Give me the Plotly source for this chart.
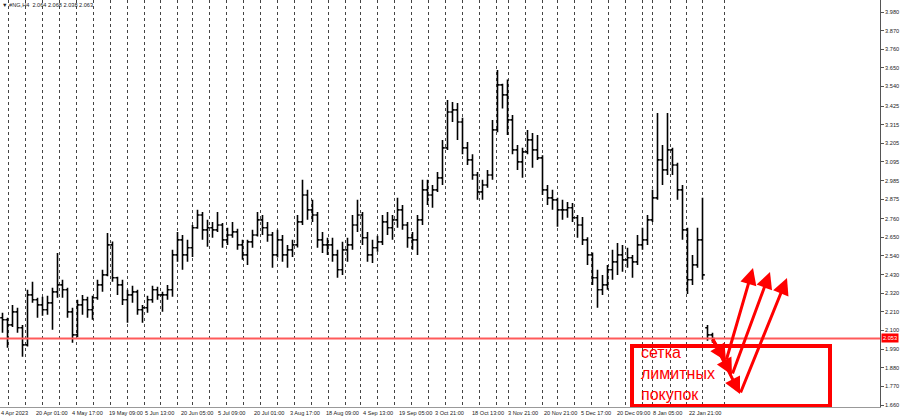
import plotly.graph_objects as go

# ---------------- data (H4 bars aggregated) ----------------
opens = [2.175, 2.163, 2.133, 2.210, 2.116, 2.015, 2.310, 2.281, 2.251, 2.222,
         2.263, 2.328, 2.369, 2.340, 2.210, 2.074, 2.251, 2.281, 2.222, 2.293,
         2.369, 2.428, 2.605, 2.411, 2.369, 2.281, 2.310, 2.328, 2.222, 2.234,
         2.281, 2.340, 2.310, 2.310, 2.340, 2.546, 2.635, 2.546, 2.588, 2.706,
         2.782, 2.694, 2.706, 2.694, 2.723, 2.635, 2.664, 2.682, 2.605, 2.546,
         2.623, 2.664, 2.753, 2.706, 2.664, 2.546, 2.635, 2.546, 2.576, 2.605,
         2.741, 2.900, 2.812, 2.782, 2.635, 2.605, 2.605, 2.546, 2.458, 2.576,
         2.605, 2.723, 2.782, 2.647, 2.546, 2.588, 2.623, 2.741, 2.706, 2.753,
         2.812, 2.723, 2.647, 2.635, 2.753, 2.930, 2.900, 2.930, 3.001, 3.178,
         3.390, 3.402, 3.331, 3.178, 3.107, 3.018, 2.918, 2.959, 3.018, 3.284,
         3.550, 3.491, 3.343, 3.166, 3.095, 3.154, 3.225, 3.166, 3.119, 2.930,
         2.883, 2.871, 2.812, 2.812, 2.824, 2.765, 2.723, 2.635, 2.546, 2.411,
         2.340, 2.369, 2.458, 2.505, 2.546, 2.517, 2.529, 2.505, 2.605, 2.635,
         2.753, 2.883, 3.107, 3.048, 3.166, 3.077, 2.930, 2.694, 2.399, 2.487,
         2.635, 2.116, 2.074]
highs = [2.204, 2.175, 2.251, 2.234, 2.133, 2.340, 2.387, 2.293, 2.299, 2.305,
         2.352, 2.558, 2.399, 2.352, 2.234, 2.281, 2.310, 2.299, 2.305, 2.399,
         2.458, 2.676, 2.625, 2.417, 2.399, 2.340, 2.364, 2.340, 2.251, 2.305,
         2.364, 2.358, 2.328, 2.369, 2.576, 2.682, 2.664, 2.635, 2.723, 2.812,
         2.800, 2.753, 2.741, 2.800, 2.735, 2.706, 2.741, 2.700, 2.635, 2.635,
         2.694, 2.800, 2.782, 2.741, 2.682, 2.694, 2.664, 2.605, 2.635, 2.782,
         2.989, 2.930, 2.871, 2.800, 2.682, 2.647, 2.647, 2.576, 2.623, 2.647,
         2.782, 2.871, 2.800, 2.682, 2.635, 2.659, 2.782, 2.800, 2.782, 2.883,
         2.841, 2.741, 2.682, 2.782, 2.989, 2.989, 2.959, 3.036, 3.225, 3.461,
         3.449, 3.443, 3.355, 3.213, 3.140, 3.036, 2.989, 3.048, 3.343, 3.638,
         3.557, 3.581, 3.372, 3.195, 3.178, 3.284, 3.266, 3.254, 3.135, 2.959,
         2.930, 2.883, 2.871, 2.859, 2.853, 2.782, 2.770, 2.650, 2.560, 2.458,
         2.428, 2.487, 2.576, 2.617, 2.605, 2.588, 2.546, 2.664, 2.706, 2.782,
         2.930, 3.384, 3.195, 3.384, 3.178, 3.090, 2.959, 2.706, 2.546, 2.706,
         2.883, 2.133, 2.086]
lows = [2.086, 1.998, 2.120, 2.086, 1.945, 2.005, 2.263, 2.175, 2.187, 2.193,
        2.104, 2.293, 2.293, 2.175, 2.027, 2.060, 2.193, 2.175, 2.163, 2.281,
        2.328, 2.420, 2.387, 2.310, 2.251, 2.145, 2.263, 2.193, 2.145, 2.204,
        2.263, 2.281, 2.210, 2.281, 2.299, 2.505, 2.458, 2.505, 2.534, 2.700,
        2.635, 2.594, 2.647, 2.682, 2.588, 2.605, 2.647, 2.576, 2.517, 2.487,
        2.588, 2.655, 2.664, 2.623, 2.470, 2.530, 2.505, 2.470, 2.534, 2.590,
        2.723, 2.753, 2.741, 2.588, 2.558, 2.546, 2.505, 2.411, 2.428, 2.505,
        2.576, 2.682, 2.605, 2.505, 2.499, 2.564, 2.605, 2.664, 2.635, 2.706,
        2.694, 2.588, 2.576, 2.546, 2.723, 2.841, 2.824, 2.918, 2.959, 3.166,
        3.331, 3.225, 3.140, 3.077, 2.989, 2.871, 2.871, 2.942, 2.989, 3.270,
        3.410, 3.254, 3.140, 3.048, 3.001, 3.140, 3.060, 3.107, 2.900, 2.841,
        2.812, 2.712, 2.753, 2.765, 2.741, 2.647, 2.605, 2.487, 2.369, 2.234,
        2.310, 2.340, 2.399, 2.428, 2.446, 2.470, 2.411, 2.487, 2.576, 2.605,
        2.741, 2.871, 2.959, 3.018, 3.018, 2.871, 2.635, 2.316, 2.369, 2.470,
        2.399, 2.039, 2.027]
closes = [2.163, 2.133, 2.210, 2.116, 2.015, 2.310, 2.281, 2.251, 2.222, 2.263,
          2.328, 2.369, 2.340, 2.210, 2.074, 2.251, 2.281, 2.222, 2.293, 2.369,
          2.428, 2.605, 2.411, 2.369, 2.281, 2.310, 2.328, 2.222, 2.234, 2.281,
          2.340, 2.310, 2.310, 2.340, 2.546, 2.635, 2.546, 2.588, 2.706, 2.782,
          2.694, 2.706, 2.694, 2.723, 2.635, 2.664, 2.682, 2.605, 2.546, 2.623,
          2.664, 2.753, 2.706, 2.664, 2.546, 2.635, 2.546, 2.576, 2.605, 2.741,
          2.900, 2.812, 2.782, 2.635, 2.605, 2.605, 2.546, 2.458, 2.576, 2.605,
          2.723, 2.782, 2.647, 2.546, 2.588, 2.623, 2.741, 2.706, 2.753, 2.812,
          2.723, 2.647, 2.635, 2.753, 2.930, 2.900, 2.930, 3.001, 3.178, 3.390,
          3.402, 3.331, 3.178, 3.107, 3.018, 2.918, 2.959, 3.018, 3.284, 3.550,
          3.491, 3.343, 3.166, 3.095, 3.154, 3.225, 3.166, 3.119, 2.930, 2.883,
          2.871, 2.812, 2.812, 2.824, 2.765, 2.723, 2.635, 2.546, 2.411, 2.340,
          2.369, 2.458, 2.505, 2.546, 2.517, 2.529, 2.505, 2.605, 2.635, 2.753,
          2.883, 3.107, 3.048, 3.166, 3.077, 2.930, 2.694, 2.399, 2.487, 2.635,
          2.428, 2.074, 2.053]

price_ticks = [3.980, 3.870, 3.760, 3.650, 3.540, 3.425, 3.315, 3.205, 3.095,
               2.985, 2.875, 2.760, 2.650, 2.540, 2.430, 2.320, 2.210, 2.100,
               1.990, 1.880, 1.770, 1.660]
date_labels = ["4 Apr 2023", "20 Apr 01:00", "4 May 17:00", "19 May 09:00",
               "5 Jun 13:00", "20 Jun 05:00", "5 Jul 09:00", "20 Jul 01:00",
               "3 Aug 17:00", "18 Aug 09:00", "4 Sep 13:00", "19 Sep 05:00",
               "3 Oct 21:00", "18 Oct 13:00", "3 Nov 21:00", "20 Nov 21:00",
               "5 Dec 17:00", "20 Dec 09:00", "8 Jan 05:00", "22 Jan 21:00"]
level_price = 2.053
header = "▼ #NG,H4  2.064 2.068 2.038 2.063"
note_lines = ["сетка", "лимитных", "покупок"]

# ---------------- layout geometry ----------------
W, H = 900, 419
PLOT_W, PLOT_H = 880, 407
BAR_PX = 5.0
XMIN = -0.5
XMAX = XMIN + PLOT_W / BAR_PX
PX_PER_UNIT = 393 / (3.980 - 1.660)
YMAX = 3.980 + 12 / PX_PER_UNIT
YMIN = YMAX - PLOT_H / PX_PER_UNIT


def gx(px):
    return XMIN + px / BAR_PX


def gy(py):
    return YMAX - py / PX_PER_UNIT


idx = list(range(len(closes)))

grid_px = [8.3, 25, 42.3, 59.3, 76.7, 93.3, 110, 127.3, 144, 160.7, 177.7,
           192.3, 209.3, 226, 243.3, 260.3, 277.3, 294.3, 311.3, 328.3, 345.3,
           360, 377.3, 394.3, 411.3, 428.3, 445.3, 462.3, 479.3, 496.3, 508.3,
           525.7, 542.3, 557.7, 574.3, 591.7, 608.3, 625.7, 642.3, 652.3, 670,
           686.7, 702.7, 724]
label_px = [-1.3 + 36.3 * j for j in range(len(date_labels))]
label_px[0] = 0

fig = go.Figure()
fig.add_trace(go.Ohlc(
    x=idx, open=opens, high=highs, low=lows, close=closes,
    increasing=dict(line=dict(color="black", width=1.6)),
    decreasing=dict(line=dict(color="black", width=1.6)),
    tickwidth=0.45, hoverinfo="skip", showlegend=False))

shapes = [
    dict(type="line", xref="paper", yref="y", x0=0, x1=1, y0=level_price,
         y1=level_price, line=dict(color="#ff5a5a", width=2)),
    dict(type="rect", xref="x", yref="y", x0=gx(632), x1=gx(830),
         y0=gy(406), y1=gy(346), line=dict(color="#ff0000", width=4)),
]

FONT = "Liberation Sans, Arial, sans-serif"
small = dict(family=FONT, size=5.6, color="#222")
annotations = []
for lab, px in zip(date_labels, label_px):
    annotations.append(dict(x=gx(px), y=0, xref="x", yref="paper", text=lab,
                            showarrow=False, xanchor="left", yanchor="top",
                            yshift=-1, xshift=-1, font=small))
annotations.append(dict(x=0, y=1, xref="paper", yref="paper", text=header,
                        showarrow=False, xanchor="left", yanchor="top",
                        xshift=0, yshift=0, font=small))
annotations.append(dict(x=1, y=level_price, xref="paper", yref="y",
                        text=f"{level_price:.3f}", showarrow=False,
                        xanchor="left", yanchor="middle", bgcolor="#ff0000",
                        borderpad=1, xshift=1,
                        font=dict(family=FONT, size=5.6, color="white")))
annotations.append(dict(x=gx(639), y=gy(373), xref="x", yref="y",
                        text="<br>".join(note_lines), showarrow=False,
                        xanchor="left", yanchor="middle", align="left",
                        font=dict(family=FONT, size=16, color="#ff0000")))

start = (712, 338)
downs = [(726, 361), (732, 375), (740, 394)]
ups = [(753, 268), (770, 272), (787, 278)]
for d, u in zip(downs, ups):
    annotations.append(dict(x=gx(d[0]), y=gy(d[1]), ax=gx(start[0]),
                            ay=gy(start[1]), xref="x", yref="y", axref="x",
                            ayref="y", text="", showarrow=True, arrowhead=2,
                            arrowsize=1.1, arrowwidth=3, arrowcolor="#ff0000"))
    annotations.append(dict(x=gx(u[0]), y=gy(u[1]), ax=gx(d[0]),
                            ay=gy(d[1]), xref="x", yref="y", axref="x",
                            ayref="y", text="", showarrow=True, arrowhead=2,
                            arrowsize=1.1, arrowwidth=3, arrowcolor="#ff0000"))

fig.update_layout(
    width=W, height=H, margin=dict(l=0, r=W - PLOT_W, t=0, b=H - PLOT_H,
                                   pad=0),
    paper_bgcolor="white", plot_bgcolor="white", showlegend=False,
    shapes=shapes, annotations=annotations,
    xaxis=dict(range=[XMIN, XMAX], tickvals=[gx(p) for p in grid_px],
               showticklabels=False, ticks="", showgrid=True,
               gridcolor="#444", griddash="dot", gridwidth=1,
               showline=True, linecolor="#999", linewidth=1, zeroline=False,
               rangeslider=dict(visible=False), fixedrange=True,
               automargin=False),
    yaxis=dict(range=[YMIN, YMAX], side="right", tickvals=price_ticks,
               ticktext=[f"{v:.3f}" for v in price_ticks], showgrid=False,
               ticks="outside", ticklen=3, tickcolor="#555",
               showline=True, linecolor="#555", linewidth=1, zeroline=False,
               tickfont=small, fixedrange=True, automargin=False),
)

fig.write_html("out.html", config=dict(displayModeBar=False),
               post_script="document.body.style.margin='0';"
                           "document.body.style.overflow='hidden';")
